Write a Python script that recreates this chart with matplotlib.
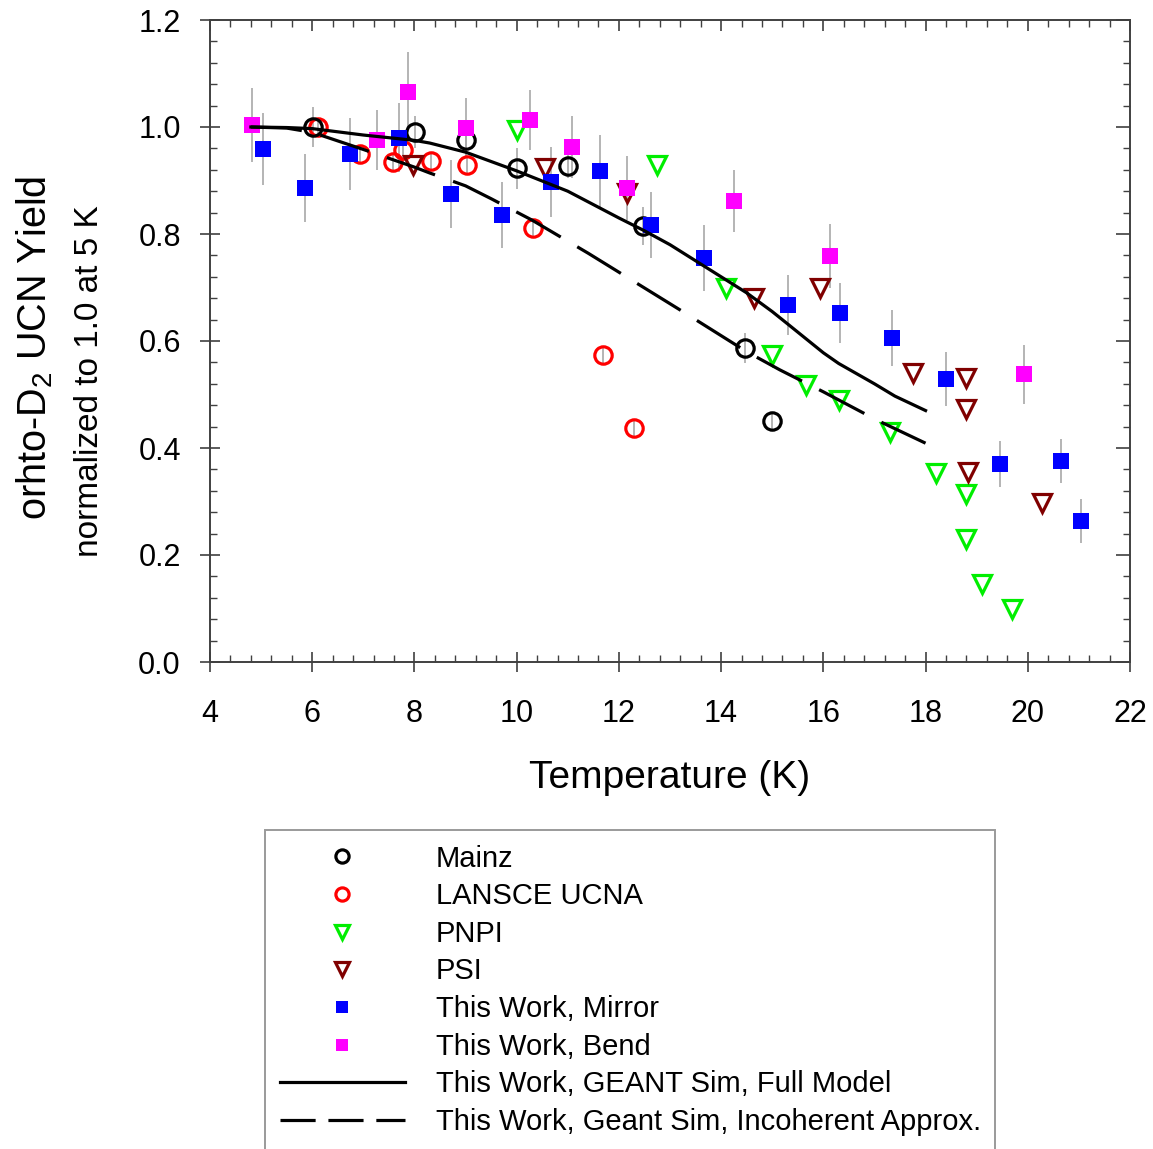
import matplotlib
matplotlib.use("Agg")
import matplotlib.pyplot as plt
from matplotlib.lines import Line2D

plt.rcParams['font.family'] = ['Liberation Sans', 'DejaVu Sans']
plt.rcParams['mathtext.fontset'] = 'custom'
plt.rcParams['mathtext.rm'] = 'Liberation Sans'
plt.rcParams['mathtext.it'] = 'Liberation Sans'

# ---------------- data ----------------
mainz_T = [6.02, 8.01, 9.01, 10.0, 11.0, 12.47, 14.47, 15.0]
mainz_Y = [1.0, 0.99, 0.976, 0.923, 0.927, 0.815, 0.587, 0.45]
mainz_err = [0.037, 0.03, 0.03, 0.038, 0.022, 0.036, 0.028, 0.015]

lansce_T = [6.12, 6.93, 7.58, 7.78, 8.32, 9.02, 10.32, 11.69, 12.3]
lansce_Y = [1.0, 0.95, 0.935, 0.957, 0.936, 0.929, 0.811, 0.574, 0.437]
lansce_err = [0.015, 0.015, 0.015, 0.015, 0.015, 0.015, 0.015, 0.015, 0.015]

pnpi_T = [10.0, 12.75, 14.1, 15.0, 15.66, 16.3, 17.3, 18.2, 18.8, 18.8, 19.1, 19.7]
pnpi_Y = [0.994, 0.929, 0.699, 0.574, 0.518, 0.49, 0.43, 0.353, 0.314, 0.23, 0.146, 0.10]

psi_T = [7.97, 10.55, 12.16, 14.64, 15.93, 17.75, 18.8, 18.8, 18.83, 20.28]
psi_Y = [0.929, 0.923, 0.877, 0.68, 0.699, 0.54, 0.531, 0.473, 0.355, 0.297]

mirror_T = [5.04, 5.86, 6.74, 7.70, 8.71, 9.71, 10.67, 11.63, 12.63, 13.67,
            15.31, 16.33, 17.34, 18.4, 19.46, 20.65, 21.04]
mirror_Y = [0.959, 0.886, 0.95, 0.98, 0.875, 0.835, 0.897, 0.918, 0.817, 0.755,
            0.667, 0.652, 0.606, 0.529, 0.37, 0.376, 0.264]
mirror_err = [0.067, 0.064, 0.067, 0.065, 0.064, 0.062, 0.065, 0.067, 0.062, 0.062,
              0.056, 0.056, 0.052, 0.05, 0.043, 0.041, 0.041]

bend_T = [4.82, 7.27, 7.87, 9.01, 10.26, 11.08, 12.16, 14.25, 16.13, 19.93]
bend_Y = [1.004, 0.976, 1.065, 0.998, 1.013, 0.963, 0.886, 0.862, 0.759, 0.538]
bend_err = [0.069, 0.056, 0.075, 0.056, 0.056, 0.058, 0.06, 0.058, 0.06, 0.055]

full_T = [4.8, 5.5, 6.0, 7.0, 8.0, 8.3, 9.0, 10.0, 11.0, 11.5, 12.0, 12.5, 13.0,
          13.5, 14.0, 14.5, 15.0, 15.3, 16.0, 16.3, 17.0, 17.4, 18.0]
full_Y = [1.0, 0.999, 0.997, 0.985, 0.975, 0.97, 0.953, 0.918, 0.88, 0.855, 0.83,
          0.806, 0.78, 0.75, 0.72, 0.69, 0.655, 0.632, 0.578, 0.558, 0.52, 0.497, 0.47]

incoh_T = [4.8, 5.5, 6.0, 7.0, 8.0, 8.3, 9.0, 9.5, 10.3, 11.4, 12.35, 13.3, 13.6,
           14.5, 15.15, 16.0, 17.05, 18.0]
incoh_Y = [1.0, 0.998, 0.99, 0.958, 0.925, 0.914, 0.89, 0.866, 0.826, 0.764, 0.708,
           0.652, 0.634, 0.58, 0.546, 0.505, 0.452, 0.409]

x_ticks = [4, 6, 8, 10, 12, 14, 16, 18, 20, 22]
y_ticks = [0.0, 0.2, 0.4, 0.6, 0.8, 1.0, 1.2]

# ---------------- figure ----------------
W, H = 1153, 1149
fig = plt.figure(figsize=(W / 100, H / 100), dpi=100)
ax = fig.add_axes([210 / W, 1 - 662 / H, (1130 - 210) / W, (662 - 20) / H])

ecol = '#a8a8a8'
ekw = dict(fmt='none', ecolor=ecol, elinewidth=1.2, capsize=0, zorder=1)
ax.errorbar(mainz_T, mainz_Y, yerr=mainz_err, **ekw)
ax.errorbar(lansce_T, lansce_Y, yerr=lansce_err, **ekw)
ax.errorbar(mirror_T, mirror_Y, yerr=mirror_err, **ekw)
ax.errorbar(bend_T, bend_Y, yerr=bend_err, **ekw)

ms_c = 12.5
mew = 2.3
ax.plot(lansce_T, lansce_Y, 'o', ms=ms_c, mfc='none', mec='#ff0000', mew=mew, zorder=3)
ax.plot(mainz_T, mainz_Y, 'o', ms=ms_c, mfc='none', mec='black', mew=mew, zorder=3)
ax.plot(pnpi_T, pnpi_Y, 'v', ms=13.5, mfc='none', mec='#00ee00', mew=mew, zorder=3)
ax.plot(psi_T, psi_Y, 'v', ms=13.5, mfc='none', mec='#800000', mew=mew, zorder=3)
ax.plot(mirror_T, mirror_Y, 's', ms=11.5, mfc='#0000ff', mec='#0000ff', mew=0, zorder=4)
ax.plot(bend_T, bend_Y, 's', ms=11.5, mfc='#ff00ff', mec='#ff00ff', mew=0, zorder=4)

ax.plot(full_T, full_Y, '-', color='black', lw=2.3, zorder=5)
ax.plot(incoh_T, incoh_Y, color='black', lw=2.3, dashes=(16, 6), zorder=5)

ax.set_xlim(4, 22)
ax.set_ylim(0, 1.2)
ax.set_xticks(x_ticks)
ax.set_yticks(y_ticks)
ax.set_xticklabels([str(v) for v in x_ticks])
ax.set_yticklabels([f"{v:.1f}" for v in y_ticks])
ax.set_xticks([4 + 0.4 * i for i in range(46)], minor=True)
ax.set_yticks([0.04 * i for i in range(31)], minor=True)

spine_col = '#404040'
for s in ax.spines.values():
    s.set_color(spine_col)
    s.set_linewidth(1.4)

ax.tick_params(which='major', direction='inout', length=14, width=1.2, color=spine_col,
               labelsize=22)
ax.tick_params(axis='x', which='major', pad=20)
ax.tick_params(axis='y', which='major', pad=14)
ax.tick_params(which='minor', direction='in', length=5, width=1.0, color=spine_col)

sx = ax.secondary_xaxis('top')
sx.set_xticks(x_ticks)
sx.set_xticks([4 + 0.4 * i for i in range(46)], minor=True)
sx.tick_params(which='major', direction='in', length=8, width=1.2, color=spine_col, labeltop=False)
sx.tick_params(which='minor', direction='in', length=5, width=1.0, color=spine_col)
sx.spines['top'].set_visible(False)
sy = ax.secondary_yaxis('right')
sy.set_yticks(y_ticks)
sy.set_yticks([0.04 * i for i in range(31)], minor=True)
sy.tick_params(which='major', direction='in', length=10, width=1.2, color=spine_col, labelright=False)
sy.tick_params(which='minor', direction='in', length=5, width=1.0, color=spine_col)
sy.spines['right'].set_visible(False)

ax.set_xlabel('Temperature (K)', fontsize=28, labelpad=22)
fig.text(35 / W, 1 - 348 / H, 'orhto-D$_2$ UCN Yield', rotation=90, fontsize=28.5,
         ha='center', va='center')
fig.text(90 / W, 1 - 381 / H, 'normalized to 1.0 at 5 K', rotation=90, fontsize=24,
         ha='center', va='center')

handles = [
    Line2D([], [], ls='none', marker='o', ms=9.5, mfc='none', mec='black', mew=2.3),
    Line2D([], [], ls='none', marker='o', ms=9.5, mfc='none', mec='#ff0000', mew=2.3),
    Line2D([], [], ls='none', marker='v', ms=10.5, mfc='none', mec='#00ee00', mew=2.3),
    Line2D([], [], ls='none', marker='v', ms=10.5, mfc='none', mec='#800000', mew=2.3),
    Line2D([], [], ls='none', marker='s', ms=9, mfc='#0000ff', mec='#0000ff', mew=0),
    Line2D([], [], ls='none', marker='s', ms=9, mfc='#ff00ff', mec='#ff00ff', mew=0),
    Line2D([], [], color='black', lw=2.3),
    Line2D([], [], color='black', lw=2.3, dashes=(11, 4)),
]
labels = ['Mainz', 'LANSCE UCNA', 'PNPI', 'PSI', 'This Work, Mirror', 'This Work, Bend',
          'This Work, GEANT Sim, Full Model', 'This Work, Geant Sim, Incoherent Approx.']
leg = fig.legend(handles, labels, loc='upper left', bbox_to_anchor=(265 / W, 1 - 830 / H),
                 fontsize=21, frameon=True, fancybox=False, edgecolor='#808080',
                 handlelength=4.3, handletextpad=1.05, labelspacing=0.33, borderpad=0.5,
                 borderaxespad=0)
leg.get_frame().set_linewidth(1.4)

fig.savefig('out.png', dpi=100)
